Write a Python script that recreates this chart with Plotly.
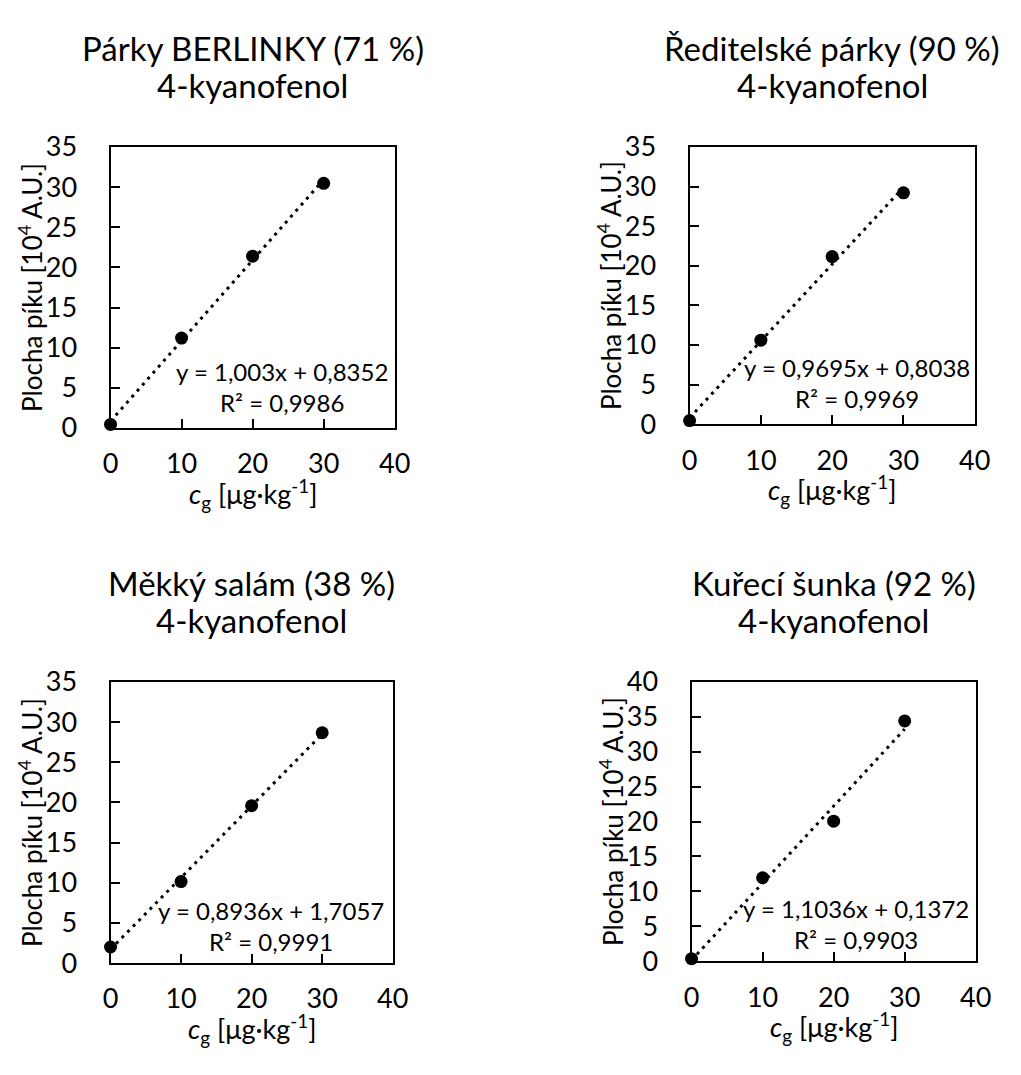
import plotly.graph_objects as go

W, H = 1021, 1075

# Calibration data: spiked concentration vs. peak area
conc = [0, 10, 20, 30]
titles = ["Párky BERLINKY (71 %)", "Ředitelské párky (90 %)",
          "Měkký salám (38 %)", "Kuřecí šunka (92 %)"]
analyte = "4-kyanofenol"
area_berlinky = [0.45, 11.2, 21.4, 30.47]
area_reditelske = [0.45, 10.6, 21.15, 29.2]
area_salam = [2.0, 10.15, 19.6, 28.68]
area_sunka = [0.35, 11.95, 20.05, 34.42]
areas = [area_berlinky, area_reditelske, area_salam, area_sunka]
slopes = [1.003, 0.9695, 0.8936, 1.1036]
intercepts = [0.8352, 0.8038, 1.7057, 0.1372]
r2 = [0.9986, 0.9969, 0.9991, 0.9903]
y_max = [35, 35, 35, 40]
x_ticks = [0, 10, 20, 30, 40]

# plot boxes in pixels: left, right, top, bottom
boxes = [(105, 396, 133, 423), (698, 990, 133, 419),
         (105, 394, 685, 975), (700, 991, 685, 973)]
# centre of the regression label, data units
eq_pos = [(24.2, 5.13), (23.5, 5.23), (22.8, 4.65), (23.1, 5.31)]

FONT = "Lato"
BLACK = "#000000"


def px_x(p):
    return p / W


def px_y(p):
    return 1 - p / H


def dec(v):
    return f"{v}".replace(".", ",")


fig = go.Figure()
layout = dict(
    width=W, height=H,
    margin=dict(l=0, r=0, t=0, b=0),
    paper_bgcolor="white", plot_bgcolor="white",
    showlegend=False,
    font=dict(family=FONT, color=BLACK),
)
annotations = []

for i in range(4):
    n = "" if i == 0 else str(i + 1)
    xa, ya = "x" + n, "y" + n
    l, r, t, b = boxes[i]
    axis_common = dict(
        showline=True, linecolor=BLACK, linewidth=2, mirror=True,
        ticks="inside", ticklen=9, tickwidth=2, tickcolor=BLACK,
        showgrid=False, zeroline=False,
        tickfont=dict(family=FONT, size=27, color=BLACK),
        fixedrange=True,
    )
    layout["xaxis" + n] = dict(
        axis_common, domain=[px_x(l), px_x(r)], range=[0, 40],
        tickvals=x_ticks, anchor=ya, ticklabelstandoff=11,
    )
    layout["yaxis" + n] = dict(
        axis_common, domain=[px_y(b), px_y(t)], range=[0, y_max[i]],
        dtick=5, tick0=0, anchor=xa, ticklabelstandoff=26,
    )

    # trend line from the stated regression
    xs = [conc[0], conc[-1]]
    ys = [slopes[i] * x + intercepts[i] for x in xs]
    fig.add_trace(go.Scatter(
        x=xs, y=ys, mode="lines", xaxis=xa, yaxis=ya,
        line=dict(color=BLACK, width=3, dash="3px,5px"),
        hoverinfo="skip", cliponaxis=False,
    ))
    fig.add_trace(go.Scatter(
        x=conc, y=areas[i], mode="markers", xaxis=xa, yaxis=ya,
        marker=dict(color=BLACK, size=13), cliponaxis=False,
    ))

    cx = (l + r) / 2
    for text, dy in ((titles[i], 102), (analyte, 64)):
        annotations.append(dict(
            xref="paper", yref="paper", x=px_x(cx), y=px_y(t - dy),
            text=text, showarrow=False,
            xanchor="center", yanchor="middle",
            font=dict(family=FONT, size=33, color=BLACK),
        ))
    annotations.append(dict(
        xref="paper", yref="paper", x=px_x(cx), y=px_y(b + 68),
        text="<i>c</i><sub>g</sub> [μg·kg<sup>-1</sup>]", showarrow=False,
        xanchor="center", yanchor="middle",
        font=dict(family=FONT, size=27, color=BLACK),
    ))
    annotations.append(dict(
        xref="paper", yref="paper", x=px_x(l - 82), y=px_y((t + b) / 2),
        text="Plocha píku [10<sup>4</sup> A.U.]", showarrow=False,
        textangle=-90, xanchor="center", yanchor="middle",
        font=dict(family=FONT, size=26, color=BLACK),
    ))
    ex, ey = eq_pos[i]
    annotations.append(dict(
        xref=xa, yref=ya, x=ex, y=ey,
        text=f"y = {dec(slopes[i])}x + {dec(intercepts[i])}<br>R² = {dec(r2[i])}",
        showarrow=False, xanchor="center", yanchor="middle", align="center",
        font=dict(family=FONT, size=24, color=BLACK),
    ))

layout["annotations"] = annotations
fig.update_layout(**layout)
fig.write_html("out.html")
